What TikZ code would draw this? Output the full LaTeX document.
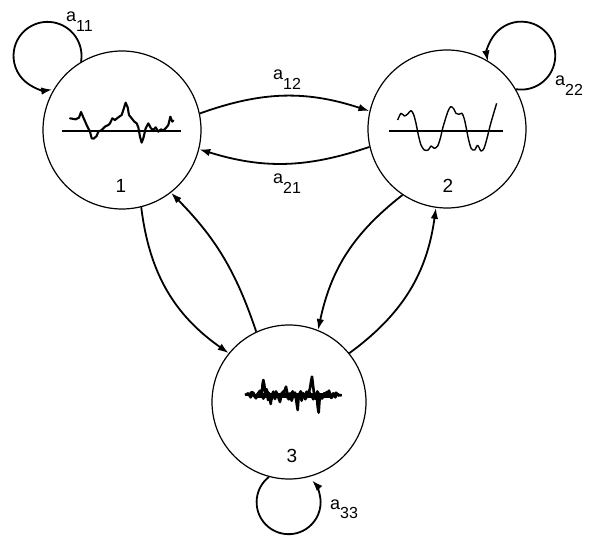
\documentclass[tikz,border=0pt]{standalone}
\usepackage{fontspec}
\setmainfont{Liberation Sans}
\usetikzlibrary{arrows.meta}
\newcommand\asub[1]{{\fontsize{18}{18}\selectfont a\raisebox{-9.5pt}{\fontsize{16}{16}\selectfont #1}}}
\tikzset{
  state/.style={circle,draw,line width=1.2pt,inner sep=0pt},
  arr/.style={line width=1.8pt,-{Latex[length=11pt,width=7.5pt]}},
  lab/.style={inner sep=0pt,anchor=base west},
  num/.style={inner sep=0pt,anchor=base,font=\fontsize{19}{19}\selectfont},
  wave/.style={line width=2.1pt,line join=round,line cap=round},
  axis/.style={line width=1.2pt}
}
\begin{document}
\begin{tikzpicture}[x=1pt,y=1pt]
\useasboundingbox (0,0) rectangle (589,536);
% states
\node[state,minimum size=158pt] (n1) at (122,406) {};
\node[state,minimum size=158pt] (n2) at (447,407) {};
\node[state,minimum size=154pt] (n3) at (289,134) {};
\node[num] (l1) at (121,343) {1};
\node[num] (l2) at (448,343) {2};
\node[num] (l3) at (292,74) {3};
% waveform 1
\begin{scope}[shift={(55,446)},x=0.3333pt,y=-0.3333pt]
\draw[axis] (22,123) -- (378,123);
\draw[wave] (45,85) -- (62,88) -- (72,83) -- (78,66) -- (84,80) -- (95,105) -- (105,125) -- (110,145) -- (116,146) -- (125,138) -- (130,125) -- (140,120) -- (150,110) -- (160,105) -- (165,100) -- (172,85) -- (180,90) -- (190,82) -- (200,75) -- (205,60) -- (212,38) -- (218,52) -- (222,75) -- (230,85) -- (238,95) -- (245,100) -- (250,112) -- (255,140) -- (260,158) -- (265,145) -- (272,115) -- (280,100) -- (288,115) -- (295,120) -- (302,112) -- (310,125) -- (318,118) -- (325,122) -- (332,115) -- (340,105) -- (346,80) -- (352,95) -- (355,92);
\end{scope}
% waveform 2
\begin{scope}[shift={(385,446)},x=0.3333pt,y=-0.3333pt]
\draw[axis] (12,123) -- (355,123);
\draw[line width=1.4pt,line join=round] plot[smooth,tension=0.5] coordinates {(38,90) (48,70) (58,78) (68,72) (78,62) (86,74) (93,100) (100,135) (108,165) (118,180) (130,180) (138,168) (148,175) (158,168) (166,145) (173,115) (181,88) (189,64) (197,50) (206,56) (213,70) (222,73) (231,70) (238,87) (244,115) (251,150) (259,176) (269,180) (278,166) (288,183) (297,175) (306,145) (316,105) (326,70) (335,40)};
\end{scope}
% waveform 3
\begin{scope}[shift={(230,176)},x=0.3333pt,y=-0.3333pt]
\draw[axis,line width=1.6pt] (45,105) -- (335,105);
\draw[line width=2.6pt,line join=round] (45,105) -- (55,100) -- (62,112) -- (70,98) -- (78,115) -- (85,100) -- (90,92) -- (95,105) -- (98,70) -- (100,60) -- (103,75) -- (106,100) -- (110,88) -- (114,120) -- (118,100) -- (122,132) -- (126,105) -- (130,95) -- (135,117) -- (140,100) -- (145,112) -- (150,126) -- (155,100) -- (160,95) -- (165,90) -- (168,80) -- (171,95) -- (175,112) -- (180,100) -- (185,122) -- (190,105) -- (195,98) -- (200,130) -- (203,150) -- (206,110) -- (210,100) -- (215,122) -- (220,100) -- (225,112) -- (230,95) -- (235,102) -- (240,85) -- (244,60) -- (246,50) -- (249,75) -- (252,100) -- (256,116) -- (260,100) -- (263,140) -- (266,158) -- (269,115) -- (273,105) -- (278,112) -- (283,100) -- (290,104) -- (297,92) -- (303,110) -- (310,100) -- (316,112) -- (322,102) -- (330,106) -- (335,105);
\draw[line width=2.4pt,line join=round] (55,108) -- (65,96) -- (75,112) -- (88,95) -- (100,116) -- (112,94) -- (125,118) -- (138,94) -- (150,116) -- (162,96) -- (176,118) -- (188,94) -- (200,116) -- (212,94) -- (226,118) -- (238,96) -- (250,118) -- (262,94) -- (276,116) -- (290,96) -- (304,114) -- (318,98) -- (328,108);
\fill (80,98) rectangle (300,113);
\end{scope}
% connectors
\draw[arr] (n1.12) to[bend left=19] (n2.167);
\draw[arr] (n2.-167) to[bend left=18] (n1.-14);
\draw[arr] (n1.-76) to[bend right=24] (n3.141);
\draw[arr] (n3.115) to[bend right=13] (n1.-52);
\draw[arr] (n2.-124) to[bend right=20] (n3.68);
\draw[arr] (n3.39) to[bend right=23] (n2.-98);
% self loops
\draw[arr] (n1.121) arc[start angle=-10,end angle=278,radius=34];
\draw[arr] (n2.30) arc[start angle=-99,end angle=190,radius=34];
\draw[arr] (n3.-105) arc[start angle=128,end angle=403,radius=32];
% labels
\node[lab] (t11) at (66,514) {\asub{11}};
\node[lab] (t12) at (273,456) {\asub{12}};
\node[lab] (t21) at (273,352) {\asub{21}};
\node[lab] (t22) at (555,450) {\asub{22}};
\node[lab] (t33) at (330,27) {\asub{33}};
\end{tikzpicture}
\end{document}
